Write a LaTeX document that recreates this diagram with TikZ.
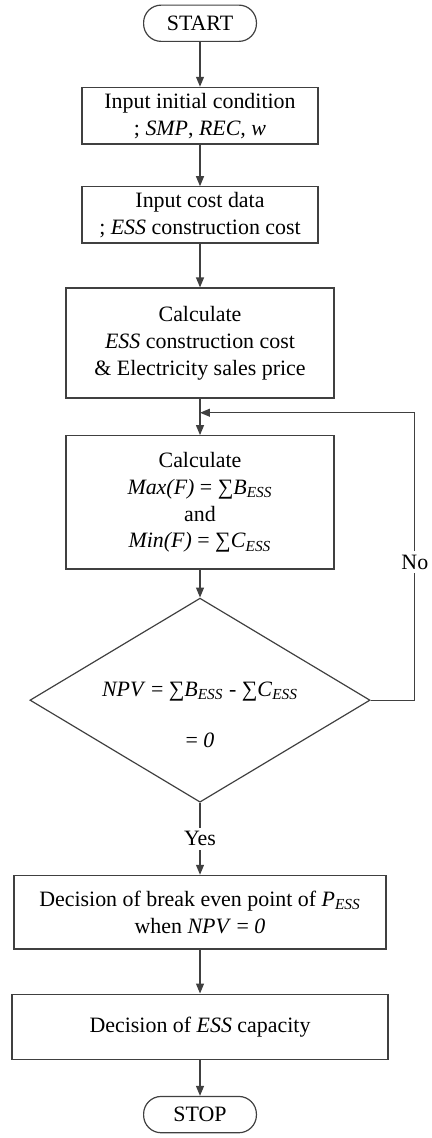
\documentclass[tikz,border=0pt]{standalone}
\usepackage{fontspec}
\setmainfont{Liberation Serif}
\usepackage{tikz}
\usetikzlibrary{calc,shapes,arrows.meta}
\newcommand{\ess}{\textsubscript{\textit{ESS}}}

\begin{document}
\begin{tikzpicture}[semithick, ->, >={Triangle[length=5pt,width=4pt]},
  font=\fontsize{11}{13.5}\selectfont, draw=black!75,
  box/.style={draw=black!75,rectangle,inner sep=0pt,align=center,minimum width=#1},
  box/.default=4.73cm,
  term/.style={draw=black!75,rectangle,rounded corners=0.31cm,inner sep=0pt,minimum width=1.99cm,minimum height=0.64cm},
  decide/.style={draw=black!75,diamond,aspect=1.67,inner sep=0pt,minimum width=6cm,minimum height=3.6cm}]
  \useasboundingbox (-3.528,0) rectangle (4.092,-20.073);

  \node [term] (start) at (0,-0.41) {START};
  \node [box=4.16cm,minimum height=1.0cm] (init) at (0,-2.04) {Input initial condition\\; \textit{SMP}, \textit{REC, w}};
  \node [box=4.16cm,minimum height=0.99cm] (cost) at (0,-3.79) {Input cost data\\; \textit{ESS} construction cost};
  \node [box,minimum height=1.94cm] (calc) at (0,-6.05) {Calculate\\\textit{ESS} construction cost\\\& Electricity sales price};
  \node [box,minimum height=2.35cm] (maxmin) at (0,-8.86) {Calculate\\\textit{Max(F)} = ∑\textit{B}\ess\\and\\\textit{Min(F)} = ∑\textit{C}\ess};
  \node [decide] (npv) at (0,-12.35) {};
  \node [align=center,inner sep=0pt] (npvtext) at (0,-12.61) {\textit{NPV} = ∑\textit{B}\ess{} - ∑\textit{C}\ess\\[12.5pt]= \textit{0}};
  \node [box=6.56cm,minimum height=1.3cm] (even) at (0,-16.09) {Decision of break even point of \textit{P}\ess\\when \textit{NPV} = \textit{0}};
  \node [box=6.63cm,minimum height=1.15cm] (cap) at (0,-18.11) {Decision of \textit{ESS} capacity};
  \node [term] (stop) at (0,-19.66) {STOP};

  \coordinate (join) at (0,-7.28);
  \coordinate (back) at (3.79,-7.28);

  \path (start) edge (init);
  \path (init) edge (cost);
  \path (cost) edge (calc);
  \path (calc) edge (maxmin);
  \path (maxmin) edge (npv);
  \path (npv) edge node [fill=white,inner sep=2pt] {Yes} (even);
  \path (even) edge (cap);
  \path (cap) edge (stop);

  \draw (npv.east) -| node [pos=0.74,fill=white,inner sep=2pt] {No} (back) -- (join);

\end{tikzpicture}
\end{document}
